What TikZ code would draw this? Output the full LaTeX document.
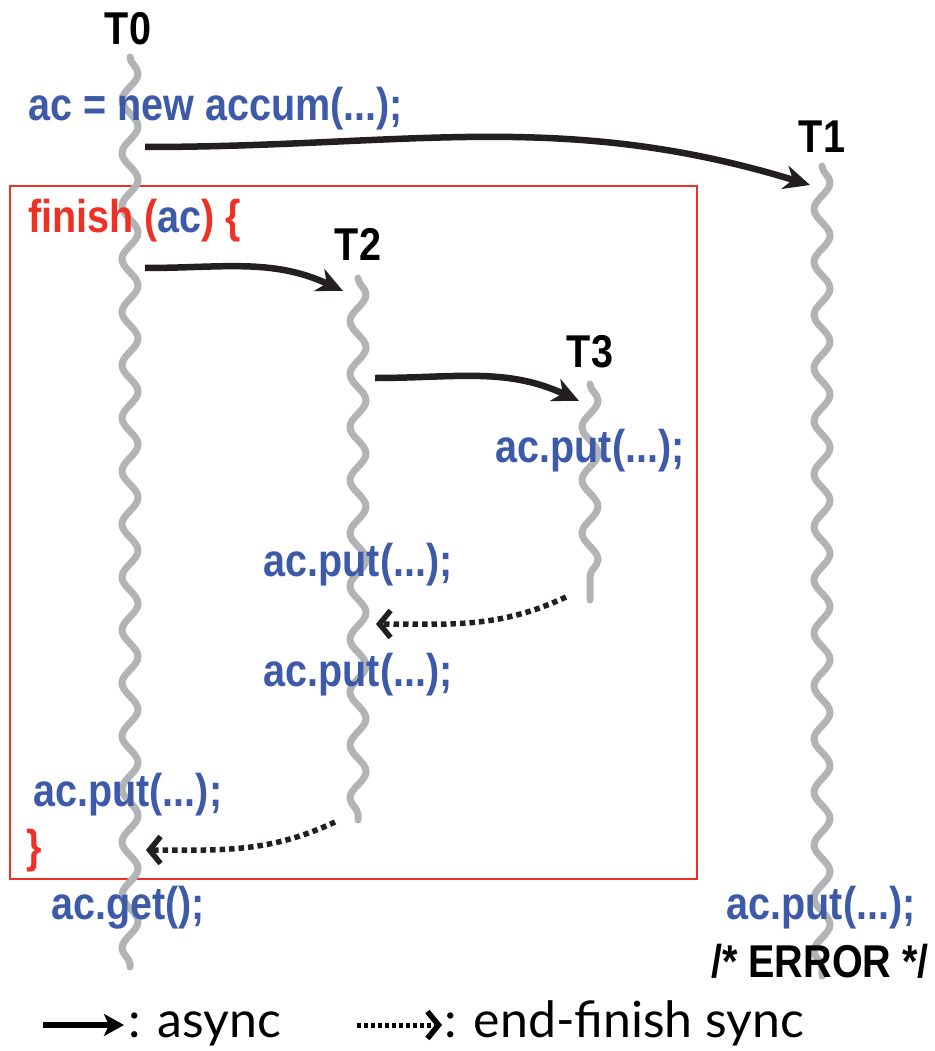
\documentclass[tikz,border=0pt]{standalone}
\usepackage{fontspec}
\setmainfont{Liberation Sans}
\newfontfamily\cond[FakeStretch=0.86]{Liberation Sans}
\newfontfamily\legfont{Lato}
\usetikzlibrary{decorations.pathmorphing,arrows.meta}
\definecolor{cblue}{HTML}{3D5AA8}
\definecolor{cred}{HTML}{EE3124}
\definecolor{cgray}{HTML}{B1B3B6}
\definecolor{cblack}{HTML}{231F20}
\tikzset{
  thread/.style={draw=cgray,line width=7pt,line cap=round,
    decorate,decoration={snake,segment length=53pt,amplitude=8pt}},
  code/.style={inner sep=0pt,anchor=base west,text=cblue,font=\cond\bfseries\fontsize{46}{50}\selectfont},
  codec/.style={code,anchor=base},
  tlabel/.style={inner sep=0pt,anchor=base,text=black,font=\cond\bfseries\fontsize{46}{50}\selectfont},
  async/.style={draw=cblack,line width=6.5pt,-{Stealth[length=26pt,width=24pt,inset=8pt]}},
  sync/.style={draw=cblack,line width=5.5pt,dash pattern=on 5.5pt off 4pt,
    -{Straight Barb[length=11pt,width=27pt,line width=5.5pt,line cap=butt]}},
  legend/.style={inner sep=0pt,anchor=base west,text=black,font=\legfont\fontsize{50}{54}\selectfont},
}
\begin{document}
\begin{tikzpicture}[x=1pt,y=-1pt]
\useasboundingbox (0,0) rectangle (934,1051);
% finish box
\draw[cred,line width=2.4pt] (10,186) rectangle (697,879);
% threads
\coordinate (t0s) at (130,57); \coordinate (t0e) at (130,967);
\coordinate (t1s) at (822,166); \coordinate (t1e) at (822,976);
\coordinate (t2s) at (358,278); \coordinate (t2e) at (358,820);
\coordinate (t3s) at (590,384); \coordinate (t3e) at (590,600);
\path[thread] (t0s) -- (t0e);
\path[thread] (t1s) -- (t1e);
\path[thread] (t2s) -- (t2e);
\path[thread] (t3s) -- (t3e);
% labels
\node[tlabel] (T0) at (128,45) {T0};
\node[tlabel] (T1) at (822,153) {T1};
\node[tlabel] (T2) at (358,260) {T2};
\node[tlabel] (T3) at (590,367) {T3};
% code texts
\node[code] (new) at (28,121) {ac = new accum(...);};
\node[code] (fin) at (28,232) {\textcolor{cred}{finish (}ac\textcolor{cred}{) \{}};
\node[codec] (p3) at (590,462) {ac.put(...);};
\node[codec] (p2a) at (358,576) {ac.put(...);};
\node[codec] (p2b) at (358,686) {ac.put(...);};
\node[code] (p0) at (33,806) {ac.put(...);};
\node[code,text=cred] (close) at (26,862) {\}};
\node[code] (get) at (51,919) {ac.get();};
\node[codec] (p1) at (821,919) {ac.put(...);};
\node[tlabel] (err) at (820,977) {/* ERROR */};
% arrows
\coordinate (a1s) at (145,147); \coordinate (a1e) at (810,185);
\coordinate (a2s) at (145,268); \coordinate (a2e) at (343,291);
\coordinate (a3s) at (375,378); \coordinate (a3e) at (579,401);
\coordinate (s1s) at (566,597); \coordinate (s1e) at (376,624);
\coordinate (s2s) at (335,822); \coordinate (s2e) at (146,850);
\draw[async] (a1s) to[out=0,in=163] (a1e);
\draw[async] (a2s) to[out=0,in=155] (a2e);
\draw[async] (a3s) to[out=0,in=155] (a3e);
\draw[sync] (s1s) to[out=205,in=0] (s1e);
\draw[sync] (s2s) to[out=205,in=0] (s2e);
% legend
\coordinate (l1s) at (43,1025); \coordinate (l1e) at (124,1025);
\coordinate (l2s) at (357,1025); \coordinate (l2e) at (442,1025);
\draw[draw=black,line width=5.5pt,-{Stealth[length=20pt,width=22pt,inset=5pt]}] (l1s) -- (l1e);
\draw[sync,draw=black,line width=5pt,dash pattern=on 4pt off 3pt] (l2s) -- (l2e);
\node[legend] (la) at (128,1037) {: async};
\node[legend] (lb) at (444,1037) {: end-finish sync};
\end{tikzpicture}
\end{document}
